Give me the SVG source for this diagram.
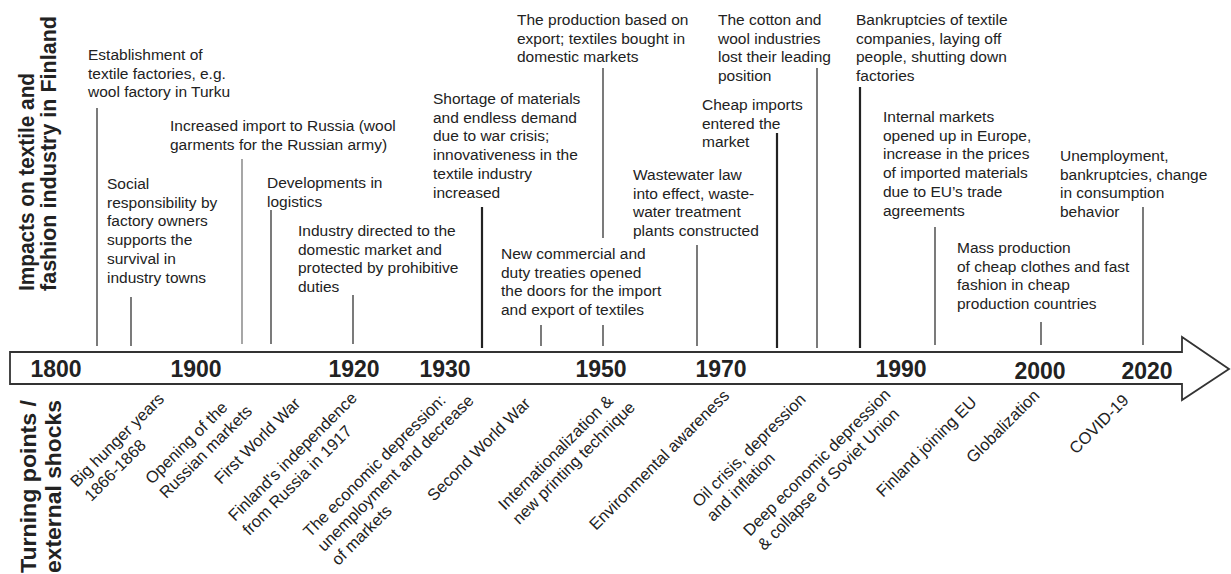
<svg xmlns="http://www.w3.org/2000/svg" width="1231" height="574" viewBox="0 0 1231 574">
  <style>
    .t { font-family: "Liberation Sans", Arial, sans-serif; font-size: 15.5px; fill: #222; }
    .lbl { font-family: "Liberation Sans", Arial, sans-serif; font-size: 16.5px; fill: #222; }
    .yr { font-family: "Liberation Sans", Arial, sans-serif; font-size: 23px; font-weight: bold; fill: #222; text-anchor: middle; }
    .ttl { font-family: "Liberation Sans", Arial, sans-serif; font-size: 22px; font-weight: bold; fill: #222; }
    .thin { stroke: #222; stroke-width: 1.2; }
    .thick { stroke: #222; stroke-width: 2.2; }
    .grey { stroke: #777; stroke-width: 1.3; }
  </style>
  <rect width="1231" height="574" fill="#fff"/>

  <!-- axis titles -->
  <g id="title-impacts">
    <text class="ttl" transform="translate(34,291) rotate(-90)" textLength="218" lengthAdjust="spacingAndGlyphs">Impacts on textile and</text>
    <text class="ttl" transform="translate(56,291) rotate(-90)" textLength="275" lengthAdjust="spacingAndGlyphs">fashion industry in Finland</text>
  </g>
  <g id="title-shocks">
    <text class="ttl" transform="translate(36,573) rotate(-90)" textLength="173" lengthAdjust="spacingAndGlyphs">Turning points /</text>
    <text class="ttl" transform="translate(61,573) rotate(-90)" textLength="173" lengthAdjust="spacingAndGlyphs">external shocks</text>
  </g>

  <!-- time axis arrow -->
  <g id="timeline">
    <path d="M10,352 H1182 V337 L1229,369 L1182,400 V384 H10 Z" fill="#fff" stroke="#333" stroke-width="1.8" stroke-linejoin="miter"/>
    <text class="yr" x="56" y="377">1800</text>
    <text class="yr" x="196" y="377">1900</text>
    <text class="yr" x="354" y="377">1920</text>
    <text class="yr" x="445" y="377">1930</text>
    <text class="yr" x="601" y="377">1950</text>
    <text class="yr" x="721" y="377">1970</text>
    <text class="yr" x="901" y="377">1990</text>
    <text class="yr" x="1040" y="379">2000</text>
    <text class="yr" x="1147" y="379">2020</text>
  </g>

  <!-- leader lines from each impact to the axis -->
  <g id="connectors">
    <line class="thin" x1="97" y1="108" x2="97" y2="346"/>
    <line class="thin" x1="131" y1="297" x2="131" y2="346"/>
    <line class="grey" x1="242" y1="159" x2="242" y2="344"/>
    <line class="thin" x1="271" y1="210" x2="271" y2="344"/>
    <line class="thin" x1="353" y1="295" x2="353" y2="344"/>
    <line class="thick" x1="482" y1="207" x2="482" y2="348"/>
    <line class="thin" x1="541" y1="325" x2="541" y2="346"/>
    <line class="thin" x1="603" y1="68" x2="603" y2="238"/>
    <line class="thin" x1="603" y1="325" x2="603" y2="346"/>
    <line class="thin" x1="697" y1="245" x2="697" y2="346"/>
    <line class="thick" x1="777" y1="133" x2="777" y2="348"/>
    <line class="thin" x1="817" y1="68" x2="817" y2="348"/>
    <line class="thick" x1="860" y1="87" x2="860" y2="348"/>
    <line class="thin" x1="935" y1="227" x2="935" y2="345"/>
    <line class="thin" x1="1041" y1="322" x2="1041" y2="345"/>
    <line class="thin" x1="1143" y1="207" x2="1143" y2="345"/>
  </g>

  <!-- impacts (above the axis) -->
  <g id="impact-factories">
    <text class="t" x="88" y="60">Establishment of</text>
    <text class="t" x="88" y="78.7">textile factories, e.g.</text>
    <text class="t" x="88" y="97.4">wool factory in Turku</text>
  </g>
  <g id="impact-social">
    <text class="t" x="107" y="189">Social</text>
    <text class="t" x="107" y="207.7">responsibility by</text>
    <text class="t" x="107" y="226.4">factory owners</text>
    <text class="t" x="107" y="245.1">supports the</text>
    <text class="t" x="107" y="263.8">survival in</text>
    <text class="t" x="107" y="282.5">industry towns</text>
  </g>
  <g id="impact-russia">
    <text class="t" x="170" y="131">Increased import to Russia (wool</text>
    <text class="t" x="170" y="149.7">garments for the Russian army)</text>
  </g>
  <g id="impact-logistics">
    <text class="t" x="267" y="188">Developments in</text>
    <text class="t" x="267" y="206.7">logistics</text>
  </g>
  <g id="impact-domestic">
    <text class="t" x="298" y="236">Industry directed to the</text>
    <text class="t" x="298" y="254.7">domestic market and</text>
    <text class="t" x="298" y="273.4">protected by prohibitive</text>
    <text class="t" x="298" y="292.1">duties</text>
  </g>
  <g id="impact-shortage">
    <text class="t" x="433" y="104">Shortage of materials</text>
    <text class="t" x="433" y="122.7">and endless demand</text>
    <text class="t" x="433" y="141.4">due to war crisis;</text>
    <text class="t" x="433" y="160.1">innovativeness in the</text>
    <text class="t" x="433" y="178.8">textile industry</text>
    <text class="t" x="433" y="197.5">increased</text>
  </g>
  <g id="impact-export">
    <text class="t" x="517" y="25">The production based on</text>
    <text class="t" x="517" y="43.7">export; textiles bought in</text>
    <text class="t" x="517" y="62.4">domestic markets</text>
  </g>
  <g id="impact-treaties">
    <text class="t" x="501" y="259">New commercial and</text>
    <text class="t" x="501" y="277.7">duty treaties opened</text>
    <text class="t" x="501" y="296.4">the doors for the import</text>
    <text class="t" x="501" y="315.1">and export of textiles</text>
  </g>
  <g id="impact-wastewater">
    <text class="t" x="633" y="180">Wastewater law</text>
    <text class="t" x="633" y="198.7">into effect, waste-</text>
    <text class="t" x="633" y="217.4">water treatment</text>
    <text class="t" x="633" y="236.1">plants constructed</text>
  </g>
  <g id="impact-cheap-imports">
    <text class="t" x="702" y="110">Cheap imports</text>
    <text class="t" x="702" y="128.7">entered the</text>
    <text class="t" x="702" y="147.4">market</text>
  </g>
  <g id="impact-cotton-wool">
    <text class="t" x="718" y="25">The cotton and</text>
    <text class="t" x="718" y="43.7">wool industries</text>
    <text class="t" x="718" y="62.4">lost their leading</text>
    <text class="t" x="718" y="81.1">position</text>
  </g>
  <g id="impact-bankruptcies">
    <text class="t" x="856" y="25">Bankruptcies of textile</text>
    <text class="t" x="856" y="43.7">companies, laying off</text>
    <text class="t" x="856" y="62.4">people, shutting down</text>
    <text class="t" x="856" y="81.1">factories</text>
  </g>
  <g id="impact-eu-markets">
    <text class="t" x="883" y="122">Internal markets</text>
    <text class="t" x="883" y="140.7">opened up in Europe,</text>
    <text class="t" x="883" y="159.4">increase in the prices</text>
    <text class="t" x="883" y="178.1">of imported materials</text>
    <text class="t" x="883" y="196.8">due to EU’s trade</text>
    <text class="t" x="883" y="215.5">agreements</text>
  </g>
  <g id="impact-mass-production">
    <text class="t" x="957" y="253">Mass production</text>
    <text class="t" x="957" y="271.7">of cheap clothes and fast</text>
    <text class="t" x="957" y="290.4">fashion in cheap</text>
    <text class="t" x="957" y="309.1">production countries</text>
  </g>
  <g id="impact-unemployment">
    <text class="t" x="1060" y="161">Unemployment,</text>
    <text class="t" x="1060" y="179.7">bankruptcies, change</text>
    <text class="t" x="1060" y="198.4">in consumption</text>
    <text class="t" x="1060" y="217.1">behavior</text>
  </g>

  <!-- turning points (below the axis, slanted) -->
  <g id="shock-hunger" transform="translate(77,488) rotate(-45)">
    <text class="lbl" x="0" y="0">Big hunger years</text>
    <text class="lbl" x="0" y="20">1866-1868</text>
  </g>
  <g id="shock-russian-markets" transform="translate(152,485) rotate(-45)">
    <text class="lbl" x="0" y="0">Opening of the</text>
    <text class="lbl" x="0" y="20">Russian markets</text>
  </g>
  <g id="shock-ww1" transform="translate(221,485) rotate(-45)">
    <text class="lbl" x="0" y="0">First World War</text>
  </g>
  <g id="shock-independence" transform="translate(235,522) rotate(-45)">
    <text class="lbl" x="0" y="0">Finland's independence</text>
    <text class="lbl" x="0" y="20">from Russia in 1917</text>
  </g>
  <g id="shock-depression-1930s" transform="translate(310,538) rotate(-45)">
    <text class="lbl" x="0" y="0">The economic depression:</text>
    <text class="lbl" x="0" y="20">unemployment and decrease</text>
    <text class="lbl" x="0" y="40">of markets</text>
  </g>
  <g id="shock-ww2" transform="translate(434,502) rotate(-45)">
    <text class="lbl" x="0" y="0">Second World War</text>
  </g>
  <g id="shock-internationalization" transform="translate(505,511) rotate(-45)">
    <text class="lbl" x="0" y="0">Internationalization &amp;</text>
    <text class="lbl" x="0" y="20">new printing technique</text>
  </g>
  <g id="shock-environment" transform="translate(596,531) rotate(-45)">
    <text class="lbl" x="0" y="0">Environmental awareness</text>
  </g>
  <g id="shock-oil-crisis" transform="translate(699,508) rotate(-45)">
    <text class="lbl" x="0" y="0">Oil crisis, depression</text>
    <text class="lbl" x="0" y="20">and inflation</text>
  </g>
  <g id="shock-deep-depression" transform="translate(750,537) rotate(-45)">
    <text class="lbl" x="0" y="0">Deep economic depression</text>
    <text class="lbl" x="0" y="20">&amp; collapse of Soviet Union</text>
  </g>
  <g id="shock-eu" transform="translate(883,498) rotate(-45)">
    <text class="lbl" x="0" y="0">Finland joining EU</text>
  </g>
  <g id="shock-globalization" transform="translate(973,464) rotate(-45)">
    <text class="lbl" x="0" y="0">Globalization</text>
  </g>
  <g id="shock-covid" transform="translate(1076,455) rotate(-45)">
    <text class="lbl" x="0" y="0">COVID-19</text>
  </g>
</svg>
